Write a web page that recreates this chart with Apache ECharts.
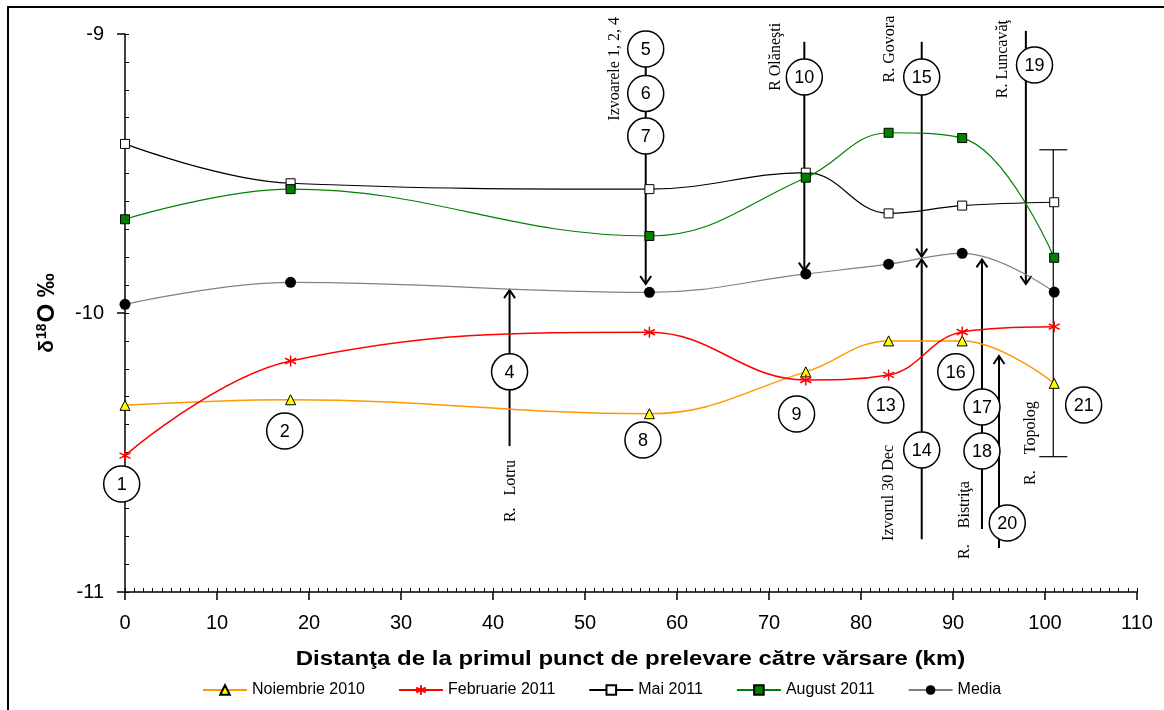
<!DOCTYPE html>
<html>
<head>
<meta charset="utf-8">
<script src="https://cdn.jsdelivr.net/npm/echarts@6/dist/echarts.min.js"></script>
<style>
  html, body { margin: 0; padding: 0; background: #fff; }
  #chart { width: 1164px; height: 710px; }
</style>
</head>
<body>
<div id="chart"></div>
<script>
// sampling distances (km)
const distances = [0, 18, 57, 74, 83, 91, 101];
// d18O per campaign
const noiembrie2010 = [-10.331, -10.311, -10.361, -10.211, -10.100, -10.100, -10.252];
const februarie2011 = [-10.511, -10.172, -10.069, -10.240, -10.222, -10.068, -10.049];
const mai2011 = [-9.394, -9.535, -9.556, -9.497, -9.643, -9.615, -9.603];
const august2011 = [-9.664, -9.556, -9.724, -9.515, -9.354, -9.373, -9.802];
const media = [-9.969, -9.890, -9.926, -9.860, -9.825, -9.786, -9.925];

// tributary arrows: [x, from, to, kind]
const arrowLines = [
  [41.8, -10.477, -9.918, 'arrow'],
  [56.6, -9.054, -9.896, 'arrow'],
  [73.84, -9.028, -9.848, 'arrow'],
  [86.6, -9.028, -9.798, 'arrow'],
  [86.6, -10.811, -9.808, 'arrow'],
  [93.15, -10.774, -9.808, 'arrow'],
  [95.0, -10.842, -10.154, 'arrow'],
  [97.92, -8.989, -9.896, 'arrow'],
  [100.9, -9.415, -10.515, 'bar']
];

// numbered sampling sites
const siteLabels = ['1', '2', '4', '5', '6', '7', '8', '9', '10', '13', '14', '15', '16', '17', '18', '19', '20', '21'];
const siteX = [-0.36, 17.36, 41.8, 56.6, 56.6, 56.6, 56.3, 73.0, 73.84, 82.7, 86.6, 86.6, 90.3, 93.15, 93.15, 98.86, 95.9, 104.2];
const siteY = [-10.613, -10.423, -10.211, -9.054, -9.213, -9.366, -10.455, -10.362, -9.154, -10.330, -10.491, -9.154, -10.211, -10.337, -10.495, -9.111, -10.753, -10.330];

// river / spring names (vertical)
const riverLabels = ['Izvoarele 1, 2, 4', 'R Olăneşti', 'R. Govora', 'R. Luncavăţ', 'R.   Lotru', 'Izvorul 30 Dec', 'R.    Bistriţa', 'R.    Topolog'];
const riverX = [53.2, 70.77, 83.17, 95.45, 41.95, 83.06, 91.32, 98.5];
const riverY = [-9.125, -9.082, -9.054, -9.090, -10.638, -10.645, -10.742, -10.466];

const font = 'Liberation Sans, Arial, sans-serif';
const serif = 'Liberation Serif, Times New Roman, serif';

function pairs(ys) {
  return distances.map((d, i) => [d, ys[i]]);
}

const asterisk = 'path://M5,0L5,10M0.7,2.5L9.3,7.5M9.3,2.5L0.7,7.5';

function renderArrow(params, api) {
  const a = arrowLines[params.dataIndex];
  const p1 = api.coord([a[0], a[1]]);
  const p2 = api.coord([a[0], a[2]]);
  if (a[3] === 'bar') {
    const w = 14;
    return {
      type: 'group',
      children: [
        {type: 'line', shape: {x1: p1[0], y1: p1[1], x2: p2[0], y2: p2[1]}, style: {stroke: '#000', lineWidth: 1.2}},
        {type: 'line', shape: {x1: p1[0] - w, y1: p1[1], x2: p1[0] + w, y2: p1[1]}, style: {stroke: '#000', lineWidth: 1.2}},
        {type: 'line', shape: {x1: p2[0] - w, y1: p2[1], x2: p2[0] + w, y2: p2[1]}, style: {stroke: '#000', lineWidth: 1.2}}
      ]
    };
  }
  const dir = p2[1] > p1[1] ? 1 : -1;
  const hx = 5.5, hy = 8;
  return {
    type: 'group',
    children: [
      {type: 'line', shape: {x1: p1[0], y1: p1[1], x2: p2[0], y2: p2[1]}, style: {stroke: '#000', lineWidth: 2}},
      {type: 'polyline', shape: {points: [[p2[0] - hx, p2[1] - dir * hy], [p2[0], p2[1]], [p2[0] + hx, p2[1] - dir * hy]]},
        style: {stroke: '#000', lineWidth: 2, fill: null}}
    ]
  };
}

function renderSite(params, api) {
  const i = params.dataIndex;
  const p = api.coord([siteX[i], siteY[i]]);
  return {
    type: 'group',
    children: [
      {type: 'circle', shape: {cx: p[0], cy: p[1], r: 18}, style: {fill: '#fff', stroke: '#000', lineWidth: 1.5}},
      {type: 'text', x: p[0], y: p[1] + 1, style: {text: siteLabels[i], fill: '#000', font: '18px ' + font, align: 'center', verticalAlign: 'middle'}}
    ]
  };
}

function renderRiver(params, api) {
  const i = params.dataIndex;
  const p = api.coord([riverX[i], riverY[i]]);
  return {
    type: 'text', x: p[0], y: p[1], rotation: Math.PI / 2,
    style: {text: riverLabels[i], fill: '#000', font: '16px ' + serif, align: 'center', verticalAlign: 'middle'}
  };
}

const myChart = echarts.init(document.getElementById('chart'));
const option = {
  animation: false,
  backgroundColor: '#fff',
  textStyle: {fontFamily: font},
  graphic: [
    {
      type: 'rect', silent: true,
      shape: {x: 8, y: 7, width: 1400, height: 900},
      style: {fill: null, stroke: '#000', lineWidth: 2}
    },
    {
      // x axis title, the original is stretched horizontally
      type: 'text', silent: true, x: 630.5, y: 659, scaleX: 1.2,
      style: {
        text: 'Distanţa de la primul punct de prelevare către vărsare (km)',
        font: 'bold 20px ' + font, fill: '#000', align: 'center', verticalAlign: 'middle'
      }
    }
  ],
  grid: {left: 125, right: 27, top: 34, bottom: 118, containLabel: false},
  legend: {
    left: 197, top: 677,
    itemWidth: 44, itemHeight: 12, itemGap: 33,
    textStyle: {fontSize: 16, color: '#000', fontFamily: font},
    data: ['Noiembrie 2010', 'Februarie 2011', 'Mai 2011', 'August 2011', 'Media']
  },
  xAxis: [
    {
      type: 'value', min: 0, max: 110, interval: 10, position: 'bottom',
      axisLine: {show: true, lineStyle: {color: '#000', width: 1.5}},
      axisTick: {show: true, length: 8, lineStyle: {color: '#000', width: 1.5}},
      axisLabel: {color: '#000', fontSize: 20, margin: 21, fontFamily: font},
      splitLine: {show: false}
    },
    {
      type: 'value', min: 0, max: 110, interval: 1, position: 'bottom',
      axisLine: {show: false},
      axisTick: {show: true, inside: true, length: 4, lineStyle: {color: '#000', width: 1}},
      axisLabel: {show: false},
      splitLine: {show: false}
    }
  ],
  yAxis: [
    {
      type: 'value', min: -11, max: -9, interval: 1, position: 'left',
      name: '{d|δ}{s|18}{o|O ‰}',
      nameLocation: 'middle', nameRotate: 90, nameGap: 66,
      nameTextStyle: {
        color: '#000', fontFamily: font, fontWeight: 'bold',
        rich: {
          d: {fontSize: 21, fontWeight: 'bold', color: '#000', fontFamily: font},
          s: {fontSize: 14, fontWeight: 'bold', color: '#000', fontFamily: font, verticalAlign: 'top', padding: [0, 1, 10, 1]},
          o: {fontSize: 24, fontWeight: 'bold', color: '#000', fontFamily: font}
        }
      },
      axisLine: {show: true, lineStyle: {color: '#000', width: 1.5}},
      axisTick: {show: true, length: 8, lineStyle: {color: '#000', width: 1.5}},
      axisLabel: {color: '#000', fontSize: 20, margin: 21, fontFamily: font},
      splitLine: {show: false}
    },
    {
      type: 'value', min: -11, max: -9, interval: 0.1, position: 'left',
      axisLine: {show: false},
      axisTick: {show: true, inside: true, length: 4, lineStyle: {color: '#000', width: 1}},
      axisLabel: {show: false},
      splitLine: {show: false}
    }
  ],
  series: [
    {
      type: 'custom', name: 'arrows', z: 1, silent: true,
      renderItem: renderArrow,
      data: arrowLines.map(a => [a[0], a[1]])
    },
    {
      name: 'Noiembrie 2010', type: 'line', smooth: 0.4, z: 3,
      symbol: 'triangle', symbolSize: 10,
      lineStyle: {color: '#ff9900', width: 1.5},
      itemStyle: {color: '#ffff00', borderColor: '#000', borderWidth: 1},
      data: pairs(noiembrie2010)
    },
    {
      name: 'Februarie 2011', type: 'line', smooth: 0.4, z: 3,
      symbol: asterisk, symbolSize: 11,
      lineStyle: {color: '#ff0000', width: 1.5},
      itemStyle: {color: 'none', borderColor: '#ff0000', borderWidth: 1.5},
      data: pairs(februarie2011)
    },
    {
      name: 'Mai 2011', type: 'line', smooth: 0.4, z: 3,
      symbol: 'rect', symbolSize: 9,
      lineStyle: {color: '#000', width: 1.2},
      itemStyle: {color: '#fff', borderColor: '#000', borderWidth: 1},
      data: pairs(mai2011)
    },
    {
      name: 'August 2011', type: 'line', smooth: 0.4, z: 3,
      symbol: 'rect', symbolSize: 9,
      lineStyle: {color: '#008000', width: 1.2},
      itemStyle: {color: '#008000', borderColor: '#000', borderWidth: 1},
      data: pairs(august2011)
    },
    {
      name: 'Media', type: 'line', smooth: 0.4, z: 3,
      symbol: 'circle', symbolSize: 11,
      lineStyle: {color: '#808080', width: 1.2},
      itemStyle: {color: '#000', borderColor: '#000', borderWidth: 0},
      data: pairs(media)
    },
    {
      type: 'custom', name: 'sites', z: 4, silent: true,
      renderItem: renderSite,
      data: siteX.map((x, i) => [x, siteY[i]])
    },
    {
      type: 'custom', name: 'rivers', z: 4, silent: true,
      renderItem: renderRiver,
      data: riverX.map((x, i) => [x, riverY[i]])
    }
  ]
};
myChart.setOption(option);
window.addEventListener('resize', () => myChart.resize());
</script>
</body>
</html>
